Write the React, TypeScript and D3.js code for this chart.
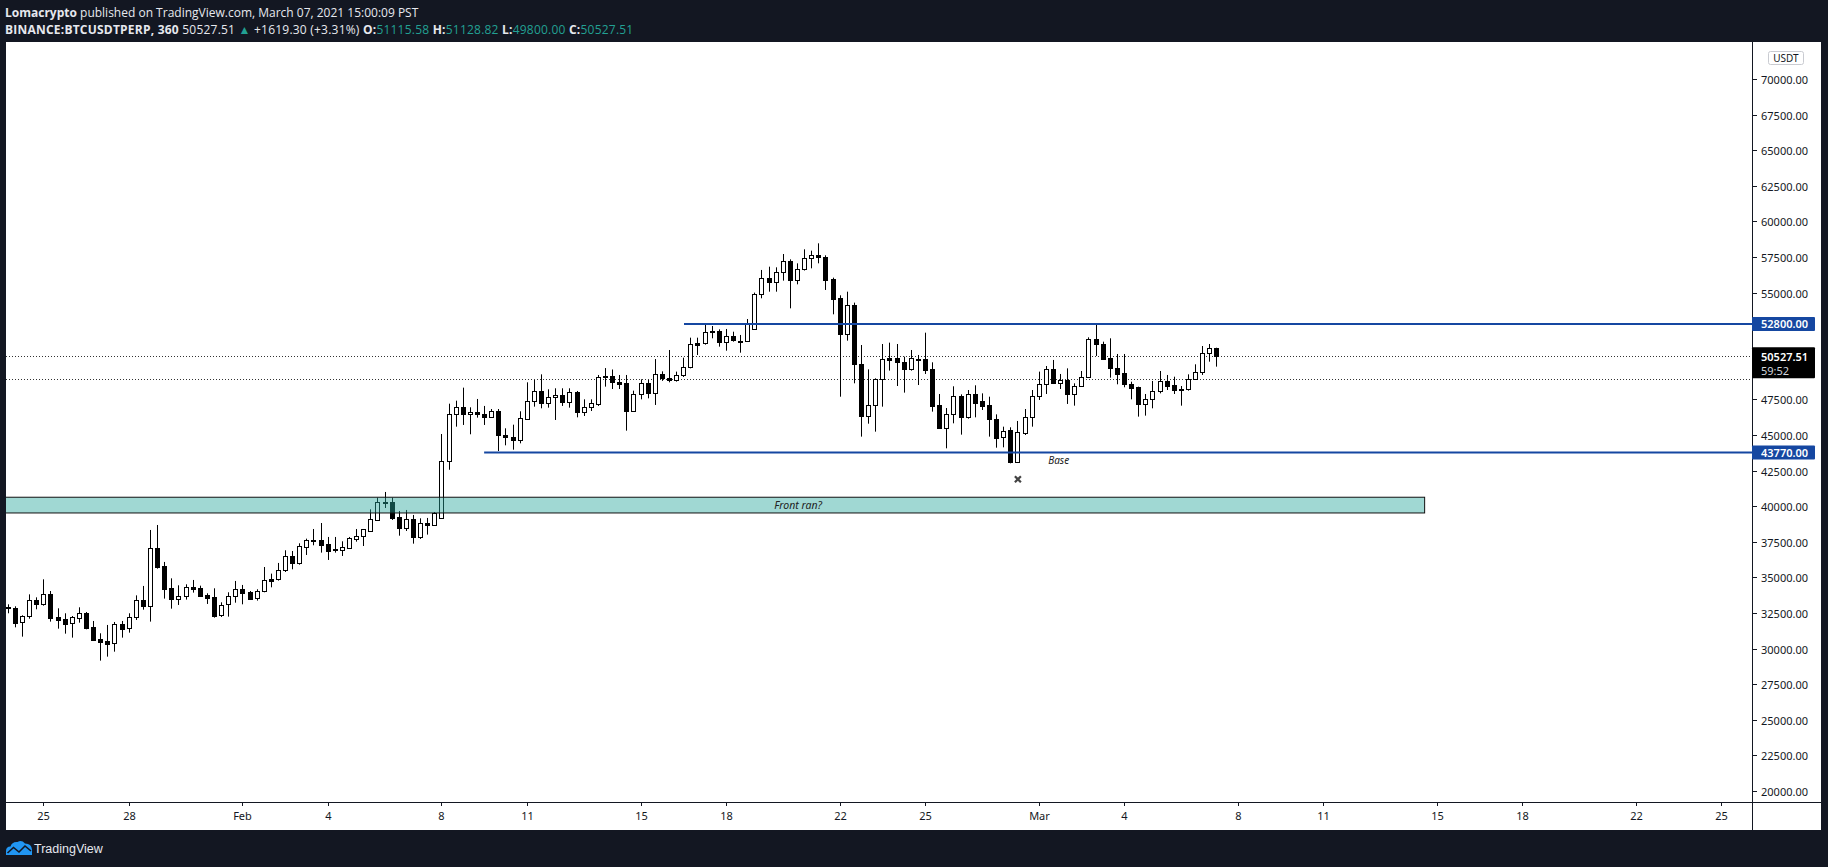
import React from "react";
import * as d3 from "d3";

// ---------- data ----------
const START = Date.UTC(2021, 0, 23, 18); // first 6h bar
const BAR_MS = 6 * 3600 * 1000;

const opens = [
  32900, 32830, 31845, 32265, 33415, 33155, 33810, 32220, 32055, 31775,
  32175, 32500, 31495, 30675, 30535, 30370, 31705, 31425, 32245, 33415,
  33015, 37045, 35780, 34235, 33510, 33670, 34305, 34235, 33765, 33600,
  32340, 33110, 33720, 34165, 33975, 33530, 34025, 34865, 34865, 35500,
  36480, 35990, 37160, 37580, 37630, 37345, 37000, 36950, 37090, 37720,
  37930, 38285, 39055, 40250, 40295, 39220, 38495, 39080, 37860, 38800,
  38705, 39150, 43175, 46475, 46965, 46475, 46615, 46475, 46240, 46665,
  44980, 44835, 44675, 46150, 47410, 48070, 47270, 47645, 47810, 47340,
  47995, 46640, 46945, 47200, 49145, 49145, 48700, 48630, 46710, 47880,
  48630, 47975, 49260, 48980, 48865, 49190, 49750, 51440, 51440, 52305,
  52305, 51510, 51930, 51600, 51580, 52420, 54900, 56005, 55770, 56425,
  57195, 55910, 56635, 57405, 57640, 57475, 55930, 54600, 52115, 54105,
  49960, 46360, 47130, 48910, 50385, 50385, 50105, 49660, 50340, 50315,
  49610, 47085, 45515, 46450, 47715, 46240, 47855, 47390, 47105, 46125,
  44835, 45350, 43125, 45120, 46240, 47715, 48560, 49610, 48675, 48865,
  47855, 48420, 49050, 51720, 51370, 50385, 49680, 49330, 48560, 48370,
  47155, 47505, 48090, 48770, 48490, 48230, 48210, 48910, 49400, 50735,
  51115.58,
];

const highs = [
  33110, 32970, 32340, 33810, 33600, 34865, 34045, 32830, 32480, 32290,
  32900, 32570, 31940, 31075, 31660, 31870, 31940, 32480, 33740, 34400,
  38330, 38680, 36085, 34935, 34445, 34515, 34820, 34420, 33885, 34235,
  33250, 33955, 34750, 34470, 34045, 34165, 35730, 35265, 36015, 36905,
  36855, 37395, 37720, 38400, 38820, 37840, 37840, 37535, 37840, 38400,
  38400, 39780, 40600, 41000, 40600, 39665, 39735, 39385, 39150, 39175,
  39595, 45070, 47200, 47410, 48325, 46945, 47530, 47040, 46825, 46825,
  45470, 45725, 46665, 48700, 48865, 49260, 48210, 48280, 48280, 48280,
  48090, 47505, 47505, 49215, 49700, 49600, 49215, 49215, 48115, 48910,
  48865, 50335, 49470, 50970, 49450, 50430, 51835, 51835, 52725, 52655,
  52420, 52445, 52255, 52025, 53145, 55000, 56590, 56820, 56775, 57710,
  57335, 57055, 58040, 57945, 58460, 57620, 56050, 54810, 55065, 54295,
  51320, 49610, 48980, 51390, 51485, 51390, 50500, 50970, 50620, 52185,
  50105, 47880, 46895, 48420, 47855, 48160, 48490, 47925, 47690, 46450,
  45585, 45540, 45985, 46825, 48160, 49450, 49845, 50270, 49285, 49680,
  48630, 49495, 51860, 52725, 51555, 51790, 50690, 50690, 48745, 48395,
  47880, 48795, 49495, 49215, 49095, 48440, 49260, 49965, 51250, 51390,
  51128.82,
];

const lows = [
  32480, 31495, 30840, 32100, 32760, 33015, 31895, 31400, 31050, 30770,
  31820, 31355, 30560, 29155, 29435, 29785, 30770, 31120, 32010, 32735,
  31895, 35615, 33510, 32805, 33065, 33440, 33930, 33650, 33135, 32175,
  32220, 32245, 33225, 33110, 33440, 33370, 33955, 34305, 34775, 35380,
  35570, 35895, 36575, 37255, 36740, 36225, 36740, 36505, 36995, 37510,
  37205, 38215, 38960, 39875, 39035, 37930, 38260, 37370, 37700, 38005,
  38635, 39105, 42560, 45585, 45705, 45050, 46220, 45705, 46195, 43875,
  44275, 43970, 44415, 46100, 46990, 46875, 46920, 46055, 47040, 46920,
  46240, 46335, 46685, 47040, 48395, 48230, 48230, 45305, 46650, 47505,
  47575, 47110, 48800, 48700, 48750, 49075, 49680, 50620, 51345, 51790,
  51205, 50920, 51555, 50780, 51580, 52420, 54600, 55065, 55065, 55840,
  53895, 55580, 56550, 56705, 57055, 55185, 53475, 47690, 51625, 48630,
  44885, 45795, 45235, 46990, 49520, 48440, 47975, 49520, 48510, 49285,
  46640, 45450, 44065, 45820, 45025, 46145, 46240, 46755, 44885, 44110,
  44135, 43010, 43055, 45000, 45585, 47460, 47880, 48580, 48230, 47180,
  47060, 48395, 49050, 50550, 50315, 49025, 48560, 48350, 47505, 46290,
  46360, 46875, 47925, 48160, 47880, 47060, 48115, 48865, 49215, 50150,
  49800,
];

const closes = [
  32850, 31820, 32265, 33390, 33155, 33810, 32175, 32035, 31750, 32195,
  32480, 31470, 30630, 30490, 30345, 31705, 31400, 32245, 33390, 33015,
  37045, 35755, 34210, 33510, 33670, 34305, 34210, 33720, 33580, 32315,
  33090, 33720, 34165, 33930, 33510, 34025, 34795, 34775, 35500, 36480,
  35990, 37205, 37630, 37630, 37300, 36880, 36900, 37135, 37770, 37910,
  38400, 39080, 40295, 40295, 39195, 38495, 39080, 37860, 38800, 38705,
  39525, 43190, 46475, 46965, 46455, 46615, 46455, 46240, 46665, 44980,
  44835, 44675, 46170, 47410, 48070, 47270, 47645, 47810, 47320, 47995,
  46640, 46965, 47225, 49050, 49050, 48700, 48585, 46710, 47880, 48630,
  47975, 49260, 48980, 48865, 49190, 49775, 51365, 51345, 52210, 52210,
  51510, 51930, 51650, 51560, 52795, 54900, 56005, 55770, 56425, 57195,
  55910, 56635, 57405, 57620, 57475, 55910, 54575, 52095, 54105, 49960,
  46360, 47130, 48910, 50315, 50290, 50105, 49660, 50385, 50290, 49590,
  47060, 45515, 46450, 47715, 46290, 47855, 47270, 47060, 46100, 44815,
  45305, 43125, 45190, 46240, 47715, 48555, 49610, 48675, 48865, 47855,
  48420, 49050, 51720, 51370, 50360, 49680, 49310, 48560, 48325, 47155,
  47505, 48090, 48770, 48465, 48185, 48190, 48910, 49400, 50735, 51085,
  50527.51,
];

const priceTicks = [
  20000, 22500, 25000, 27500, 30000, 32500, 35000, 37500, 40000, 42500,
  45000, 47500, 50000, 52500, 55000, 57500, 60000, 62500, 65000, 67500, 70000,
];

const timeTickDates = [
  Date.UTC(2021, 0, 25), Date.UTC(2021, 0, 28), Date.UTC(2021, 1, 1), Date.UTC(2021, 1, 4),
  Date.UTC(2021, 1, 8), Date.UTC(2021, 1, 11), Date.UTC(2021, 1, 15), Date.UTC(2021, 1, 18),
  Date.UTC(2021, 1, 22), Date.UTC(2021, 1, 25), Date.UTC(2021, 2, 1), Date.UTC(2021, 2, 4),
  Date.UTC(2021, 2, 8), Date.UTC(2021, 2, 11), Date.UTC(2021, 2, 15), Date.UTC(2021, 2, 18),
  Date.UTC(2021, 2, 22), Date.UTC(2021, 2, 25),
];
const timeTickLabels = ["25", "28", "Feb", "4", "8", "11", "15", "18", "22", "25", "Mar", "4", "8", "11", "15", "18", "22", "25"];

const levelPrices = [52800, 43770];
const levelStarts = [Date.UTC(2021, 1, 16, 12, 40), Date.UTC(2021, 1, 9, 12, 0)];
const levelLabels = ["52800.00", "43770.00"];

const LAST_PRICE = 50527.51;
const PREV_CLOSE = 48908.21;

const zoneTop = 40630;
const zoneBottom = 39525;
const zoneEnd = Date.UTC(2021, 2, 14, 13, 40);
const zoneText = "Front ran?";
const zoneTextTime = Date.UTC(2021, 1, 20, 13, 0);

const baseText = "Base";
const baseTime = Date.UTC(2021, 2, 1, 8, 0);
const basePrice = 43250;
const crossTime = START + 142 * BAR_MS;
const crossPrice = 41890;

// header segments: [text, bold, teal]
const headerLine1: [string, boolean, boolean][] = [
  ["Lomacrypto", true, false],
  [" published on TradingView.com, March 07, 2021 15:00:09 PST", false, false],
];
const headerLine2: [string, boolean, boolean][] = [
  ["BINANCE:BTCUSDTPERP, 360", true, false],
  [" 50527.51 ", false, false],
  ["▲", false, true],
  [" +1619.30 (+3.31%) ", false, false],
  ["O:", true, false],
  ["51115.58", false, true],
  [" H:", true, false],
  ["51128.82", false, true],
  [" L:", true, false],
  ["49800.00", false, true],
  [" C:", true, false],
  ["50527.51", false, true],
];

// ---------- layout ----------
const W = 1828;
const H = 867;
const PL = 6;
const PR = 1752;
const PT = 42;
const PB = 802;
const WHITE_R = 1821;
const WHITE_B = 830;

const DARK = "#131722";
const BLUE = "#1547a1";
const TEAL = "#22a093";
const AXIS_FONT = "'Noto Sans', 'Open Sans', sans-serif";
const HEAD_FONT = "'Open Sans', 'Noto Sans', sans-serif";

const x = d3
  .scaleUtc()
  .domain([new Date(Date.UTC(2021, 0, 23, 16, 31)), new Date(Date.UTC(2021, 2, 26, 1, 55))])
  .range([PL, PR]);
const y = d3.scaleLinear().domain([19228, 72598]).range([PB, PT]);

const bars = opens.map((o, i) => ({
  t: new Date(START + i * BAR_MS),
  o,
  h: highs[i],
  l: lows[i],
  c: closes[i],
}));

// label boxes on the price axis hide colliding tick labels
const boxSpans: [number, number][] = [
  ...levelPrices.map((p) => [y(p) - 7, y(p) + 7] as [number, number]),
  [y(LAST_PRICE) - 9, y(LAST_PRICE) + 22],
];
const visibleTicks = priceTicks.filter((p) => {
  const ty = y(p);
  return !boxSpans.some(([a, b]) => ty + 5 > a && ty - 5 < b);
});

function Candle({ d }: { d: (typeof bars)[number] }) {
  const cx = Math.round(x(d.t));
  const up = d.c >= d.o;
  const yt = Math.round(y(Math.max(d.o, d.c)));
  const yb = Math.round(y(Math.min(d.o, d.c)));
  const hgt = Math.max(1, yb - yt);
  return (
    <g>
      <line x1={cx + 0.5} x2={cx + 0.5} y1={y(d.h)} y2={y(d.l)} stroke="#000" strokeWidth={1} />
      <rect
        x={cx - 1.5}
        y={yt + 0.5}
        width={4}
        height={hgt}
        fill={up ? "#fff" : "#000"}
        stroke="#000"
        strokeWidth={1}
      />
    </g>
  );
}

function HeaderLine({
  segs,
  baseline,
  size,
  spacing,
}: {
  segs: [string, boolean, boolean][];
  baseline: number;
  size: number;
  spacing: number;
}) {
  return (
    <text
      x={5}
      y={baseline}
      fontFamily={HEAD_FONT}
      fontSize={size}
      fill="#e6e8ee"
      letterSpacing={spacing}
      style={{ whiteSpace: "pre" }}
    >
      {segs.map(([s, bold, teal], i) => (
        <tspan key={i} fontWeight={bold ? 700 : 400} fill={teal ? TEAL : "#e6e8ee"}>
          {s}
        </tspan>
      ))}
    </text>
  );
}

export default function App() {
  const zoneX1 = x(new Date(zoneEnd));
  const lastY = y(LAST_PRICE);
  return (
    <div style={{ position: "fixed", left: 0, top: 0, width: W, height: H }}>
      <svg width={W} height={H} style={{ display: "block" }}>
        <defs>
          <clipPath id="plot">
            <rect x={PL} y={PT} width={PR - PL} height={PB - PT} />
          </clipPath>
        </defs>
        <rect x={0} y={0} width={W} height={H} fill={DARK} />
        <rect x={PL} y={PT} width={WHITE_R - PL} height={WHITE_B - PT} fill="#fff" />

        {/* header */}
        <HeaderLine segs={headerLine1} baseline={17} size={12} spacing={0} />
        <HeaderLine segs={headerLine2} baseline={34} size={12} spacing={0.22} />

        <g clipPath="url(#plot)">
          {/* dotted price lines */}
          {[LAST_PRICE, PREV_CLOSE].map((p, i) => (
            <line
              key={i}
              x1={PL}
              x2={PR}
              y1={Math.round(y(p)) + 0.5}
              y2={Math.round(y(p)) + 0.5}
              stroke="#333"
              strokeWidth={1}
              strokeDasharray="1 2"
            />
          ))}
          {bars.map((d, i) => (
            <Candle key={i} d={d} />
          ))}
          {/* zone */}
          <rect
            x={PL - 2}
            y={y(zoneTop)}
            width={zoneX1 - PL + 2}
            height={y(zoneBottom) - y(zoneTop)}
            fill="rgb(38,166,154)"
            fillOpacity={0.44}
            stroke="#111"
            strokeWidth={1}
          />
          <text
            x={x(new Date(zoneTextTime))}
            y={(y(zoneTop) + y(zoneBottom)) / 2}
            dominantBaseline="central"
            textAnchor="middle"
            fontFamily={AXIS_FONT}
            fontStyle="italic"
            fontSize={10.5}
            fill="#222"
          >
            {zoneText}
          </text>
          {/* horizontal levels */}
          {levelPrices.map((p, i) => (
            <line
              key={i}
              x1={x(new Date(levelStarts[i]))}
              x2={PR}
              y1={y(p)}
              y2={y(p)}
              stroke={BLUE}
              strokeWidth={2}
            />
          ))}
          <text
            x={x(new Date(baseTime))}
            y={y(basePrice)}
            dominantBaseline="central"
            fontFamily={AXIS_FONT}
            fontStyle="italic"
            fontSize={10}
            fill="#222"
          >
            {baseText}
          </text>
          <g
            transform={`translate(${x(new Date(crossTime)) + 0.5},${y(crossPrice)})`}
            stroke="#444"
            strokeWidth={2.2}
          >
            <line x1={-3} y1={-3} x2={3} y2={3} />
            <line x1={-3} y1={3} x2={3} y2={-3} />
          </g>
        </g>

        {/* axes lines */}
        <line x1={PL} x2={WHITE_R} y1={PB + 0.5} y2={PB + 0.5} stroke={DARK} strokeWidth={1} />
        <line x1={PR + 0.5} x2={PR + 0.5} y1={PT} y2={WHITE_B} stroke={DARK} strokeWidth={1} />

        {/* time axis */}
        <g fontFamily={AXIS_FONT} fontSize={11} fill={DARK}>
          {timeTickDates.map((t, i) => {
            const tx = Math.round(x(new Date(t))) + 0.5;
            return (
              <g key={i}>
                <line x1={tx} x2={tx} y1={PB} y2={PB + 4} stroke={DARK} />
                <text x={tx} y={820} textAnchor="middle">
                  {timeTickLabels[i]}
                </text>
              </g>
            );
          })}
        </g>

        {/* price axis */}
        <g fontFamily={AXIS_FONT} fontSize={11} fill={DARK}>
          {priceTicks.map((p) => {
            const ty = Math.round(y(p)) + 0.5;
            return <line key={p} x1={PR} x2={PR + 5} y1={ty} y2={ty} stroke={DARK} />;
          })}
          {visibleTicks.map((p) => {
            const ty = Math.round(y(p)) + 0.5;
            return (
              <text key={p} x={1761} y={ty} dominantBaseline="central">
                {p.toFixed(2)}
              </text>
            );
          })}
        </g>

        {/* USDT badge */}
        <rect x={1768.5} y={51.5} width={35} height={13} rx={2} fill="#fff" stroke="#c9cbd1" />
        <text x={1786} y={58} textAnchor="middle" dominantBaseline="central" fontFamily={AXIS_FONT} fontSize={10} fill={DARK}>
          USDT
        </text>

        {/* level labels */}
        {levelPrices.map((p, i) => (
          <g key={i}>
            <rect x={PR} y={y(p) - 7} width={63} height={14} rx={1} fill={BLUE} />
            <text
              x={1761}
              y={y(p)}
              dominantBaseline="central"
              fontFamily={AXIS_FONT}
              fontSize={11}
              fontWeight={600}
              fill="#fff"
            >
              {levelLabels[i]}
            </text>
          </g>
        ))}

        {/* last price label */}
        <rect x={PR} y={lastY - 9} width={63} height={31} rx={1} fill="#000" />
        <text x={1761} y={lastY + 0.5} dominantBaseline="central" fontFamily={AXIS_FONT} fontSize={11} fontWeight={600} fill="#fff">
          {LAST_PRICE.toFixed(2)}
        </text>
        <text x={1761} y={lastY + 14} dominantBaseline="central" fontFamily={AXIS_FONT} fontSize={11} fill="#d1d4dc">
          59:52
        </text>

        {/* TradingView logo */}
        <g>
          <path
            d="M6,855 L6,851 Q6,846.5 10.5,846.5 Q12,841.5 17.5,842 Q21.5,839.5 25,843.5 Q31.5,843.5 32,849.5 L32,855 Z"
            fill="#2196f3"
          />
          <polyline points="7.5,853 13.5,847.5 19,852 25,846 31,851" fill="none" stroke={DARK} strokeWidth={1.6} />
          <text x={34} y={853} fontFamily="'Liberation Sans', Arial, sans-serif" fontSize={12.5} fill="#e6e8ee">
            TradingView
          </text>
        </g>
      </svg>
    </div>
  );
}
